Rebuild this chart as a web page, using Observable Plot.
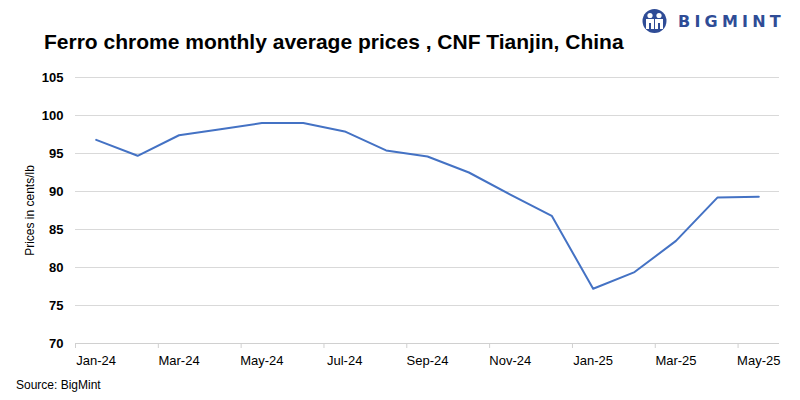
<!DOCTYPE html>
<html>
<head>
<meta charset="utf-8">
<script src="https://cdn.jsdelivr.net/npm/d3@7"></script>
<script src="https://cdn.jsdelivr.net/npm/@observablehq/plot@0.6"></script>
<style>
  html, body { margin: 0; padding: 0; background: #fff; }
  #wrap { position: relative; width: 800px; height: 400px; overflow: hidden; font-family: "Liberation Sans", Arial, sans-serif; }
  #title { position: absolute; left: 44px; top: 30px; font-size: 21px; font-weight: bold; color: #000; white-space: nowrap; }
  #source { position: absolute; left: 16px; top: 378px; font-size: 12px; color: #000; }
  #logo { position: absolute; left: 641px; top: 8px; }
  #logotext { position: absolute; left: 678px; top: 12px; font-size: 16px; font-weight: bold; color: #2f4c96; letter-spacing: 4.2px; font-family: "DejaVu Sans", sans-serif; }
  #chart { position: absolute; left: 0; top: 0; }
</style>
</head>
<body>
<div id="wrap">
  <div id="chart"></div>
  <div id="title">Ferro chrome monthly average prices , CNF Tianjin, China</div>
  <svg id="logo" width="28" height="26" viewBox="0 0 28 26">
    <circle cx="13.5" cy="13" r="12" fill="#2f4c96"/>
    <circle cx="9" cy="7.5" r="2.6" fill="#fff"/>
    <circle cx="18" cy="7.5" r="2.6" fill="#fff"/>
    <path d="M5 11 h8 v10 h-3 v-6 h-2 v6 h-3z" fill="#fff"/>
    <path d="M14 11 h8 v10 h-3 v-6 h-2 v6 h-3z" fill="#fff"/>
  </svg>
  <div id="logotext">BIGMINT</div>
  <div id="source">Source: BigMint</div>
</div>
<script>
const months = ["Jan-24","Feb-24","Mar-24","Apr-24","May-24","Jun-24","Jul-24","Aug-24","Sep-24","Oct-24","Nov-24","Dec-24","Jan-25","Feb-25","Mar-25","Apr-25","May-25"];
const prices = [96.8, 94.7, 97.4, 98.2, 99.0, 99.0, 97.9, 95.4, 94.6, 92.5, 89.6, 86.8, 77.2, 79.4, 83.5, 89.2, 89.3];
const yTicks = [70, 75, 80, 85, 90, 95, 100, 105];
const yLabel = "Prices in cents/lb";

const data = months.map((m, i) => ({i, month: m, price: prices[i]}));
const labelIdx = months.map((m, i) => i).filter(i => i % 2 === 0);
const boundaries = labelIdx.map(i => i - 0.5);

const chart = Plot.plot({
  width: 800,
  height: 400,
  marginLeft: 75,
  marginRight: 21,
  marginTop: 77,
  marginBottom: 57,
  style: {fontFamily: "Liberation Sans, Arial, sans-serif", background: "transparent"},
  x: {type: "linear", domain: [-0.5, months.length - 0.5]},
  y: {domain: [70, 105]},
  marks: [
    Plot.gridY(yTicks.filter(t => t > 70), {stroke: "#d9d9d9", strokeOpacity: 1, strokeWidth: 1}),
    Plot.ruleY([70], {stroke: "#d0d0d0", strokeWidth: 1}),
    Plot.axisY({ticks: yTicks, tickSize: 0, tickPadding: 12, fontSize: 13, fontWeight: "bold", fill: "#000", label: null}),
    Plot.text([yLabel], {frameAnchor: "left", textAnchor: "middle", dx: -45, rotate: -90, fontSize: 12, fill: "#000"}),
    Plot.axisX({ticks: boundaries, tickFormat: () => "", tickSize: 5, stroke: "#d0d0d0", label: null}),
    Plot.axisX({ticks: labelIdx, tickFormat: i => months[i], tickSize: 0, tickPadding: 12, fontSize: 13, fill: "#000", label: null}),
    Plot.line(data, {x: "i", y: "price", stroke: "#4472c4", strokeWidth: 2})
  ]
});
document.getElementById("chart").appendChild(chart);
</script>
</body>
</html>
